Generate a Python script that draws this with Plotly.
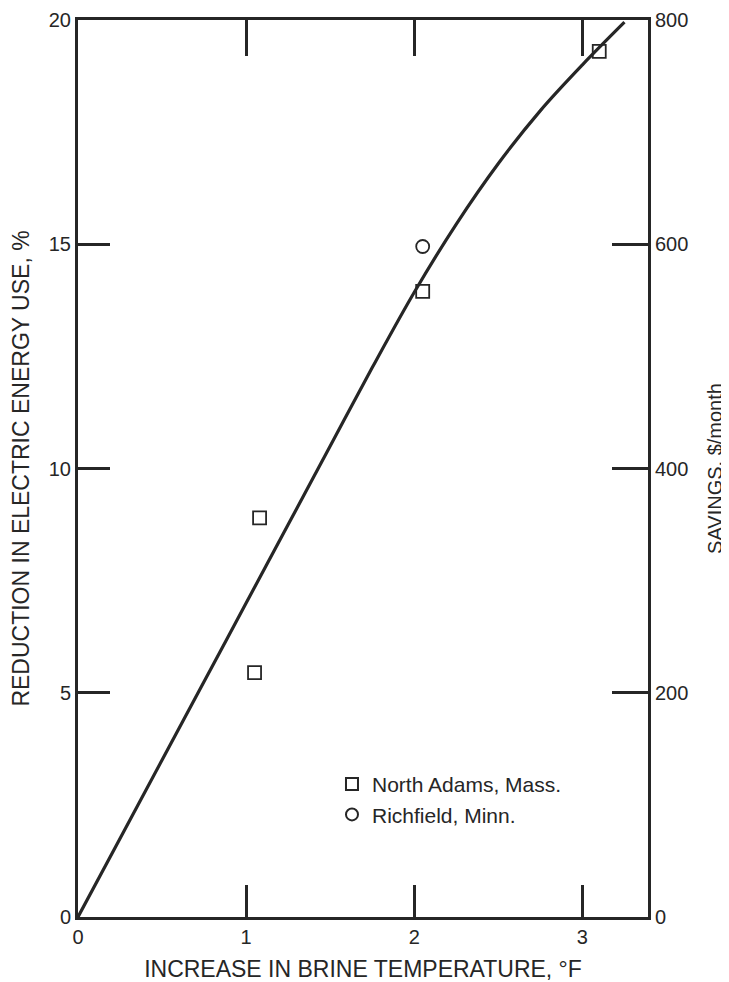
import plotly.graph_objects as go

# Fitted curve (at 0.25 °F steps)
curve_x = [0, 0.25, 0.5, 0.75, 1.0, 1.25, 1.5, 1.75, 2.0, 2.25, 2.5, 2.75, 3.0, 3.25]
curve_y = [0, 1.75, 3.5, 5.25, 7.0, 8.75, 10.5, 12.25, 13.93, 15.45, 16.8, 17.98, 19.0, 19.95]

# Observations
north_adams_x = [1.05, 1.08, 2.05, 3.10]
north_adams_y = [5.45, 8.9, 13.95, 19.3]
richfield_x = [2.05]
richfield_y = [14.95]

x_ticks = [0, 1, 2, 3]
y_ticks = [0, 5, 10, 15, 20]
savings_ticks = [0, 200, 400, 600, 800]

INK = "#262626"
FONT = "Liberation Sans, Arial, Helvetica, sans-serif"

fig = go.Figure()
fig.add_trace(go.Scatter(x=curve_x, y=curve_y, mode="lines",
                         line=dict(color=INK, width=3.2, shape="spline", smoothing=1.0),
                         showlegend=False, hoverinfo="skip", cliponaxis=True))
fig.add_trace(go.Scatter(x=north_adams_x, y=north_adams_y, mode="markers",
                         name="North Adams, Mass.",
                         marker=dict(symbol="square-open", size=13, color=INK,
                                     line=dict(width=1.8, color=INK))))
fig.add_trace(go.Scatter(x=richfield_x, y=richfield_y, mode="markers",
                         name="Richfield, Minn.",
                         marker=dict(symbol="circle-open", size=13, color=INK,
                                     line=dict(width=1.8, color=INK))))
# invisible trace to activate secondary axes
fig.add_trace(go.Scatter(x=[None], y=[None], xaxis="x2", yaxis="y2", showlegend=False))

fig.update_layout(
    width=721, height=974,
    margin=dict(l=70, r=81, t=12, b=65, autoexpand=False),
    paper_bgcolor="white", plot_bgcolor="white",
    font=dict(family=FONT, color=INK, size=20),
    showlegend=True,
    legend=dict(x=0.4456, y=0.1706, xanchor="left", yanchor="top",
                bgcolor="rgba(0,0,0,0)", font=dict(size=21, color=INK),
                itemsizing="constant", tracegroupgap=0),
    xaxis=dict(range=[0, 3.39], tickvals=x_ticks, ticktext=[str(v) for v in x_ticks],
               ticks="inside", ticklen=32, tickwidth=2.5, tickcolor=INK,
               showline=True, linewidth=3, linecolor=INK, mirror=False, automargin=False,
               showgrid=False, zeroline=False, tickfont=dict(size=20),
               title=dict(text="INCREASE IN BRINE TEMPERATURE, °F", font=dict(size=23), standoff=14)),
    xaxis2=dict(range=[0, 3.39], overlaying="x", side="top", tickvals=[1, 2, 3],
                showticklabels=False, ticks="inside", ticklen=36, tickwidth=2.5, tickcolor=INK,
                showline=True, linewidth=3, linecolor=INK, showgrid=False, zeroline=False,
                automargin=False),
    yaxis=dict(range=[0, 20], tickvals=y_ticks, ticktext=[str(v) for v in y_ticks],
               ticks="inside", ticklen=32, tickwidth=2.5, tickcolor=INK,
               showline=True, linewidth=3, linecolor=INK, automargin=False,
               showgrid=False, zeroline=False, tickfont=dict(size=20),
               title=dict(text="REDUCTION IN ELECTRIC ENERGY USE, %", font=dict(size=23), standoff=14)),
    yaxis2=dict(range=[0, 800], overlaying="y", side="right", tickvals=savings_ticks,
                ticktext=[str(v) for v in savings_ticks],
                ticks="inside", ticklen=36, tickwidth=2.5, tickcolor=INK,
                showline=True, linewidth=3, linecolor=INK, automargin=False,
                showgrid=False, zeroline=False, tickfont=dict(size=20),
                title=dict(text="SAVINGS, $/month", font=dict(size=20), standoff=21)),
)

fig.write_html("out.html")
